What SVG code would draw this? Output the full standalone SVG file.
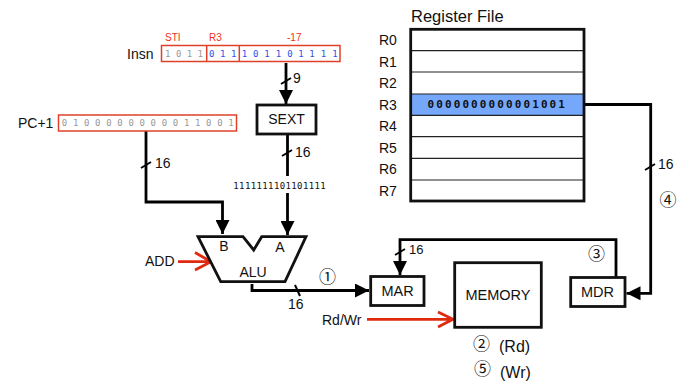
<svg xmlns="http://www.w3.org/2000/svg" width="677" height="381" viewBox="0 0 677 381">
<style>
text{font-family:"Liberation Sans",Arial,sans-serif;fill:#111}
.l{font-size:14px}.m{font-size:14.500px}.s{font-size:13px}.n{font-size:14px}.p{font-size:16px}
.r{font-size:10px;fill:#f0301a}
.b{font-family:"DejaVu Sans Mono",monospace;font-size:9px;text-anchor:middle}
.g{fill:#999}.u{fill:#3050e8}
.c{font-family:"Noto Sans CJK JP","DejaVu Sans",sans-serif;font-size:17px}
.box{fill:#fff;stroke:#111;stroke-width:2.800}
.w{fill:none;stroke:#000;stroke-width:2.800}
.t{fill:none;stroke:#000;stroke-width:2}
.red{fill:none;stroke:#e02a10;stroke-width:2.800}
.rb{fill:none;stroke:#e0402a;stroke-width:1.500}
.row{fill:none;stroke:#222;stroke-width:1.200}
</style>
<defs><marker id="a" markerUnits="userSpaceOnUse" markerWidth="14" markerHeight="14" refX="14" refY="7" orient="auto"><path d="M0 0L14 7L0 14Z" fill="#000"/></marker></defs>
<g id="connectors">
<path class="w" d="M286 63V104" marker-end="url(#a)"/>
<path class="t" d="M281 84L291 78"/>
<path class="w" d="M146 131V202H222.500V234" marker-end="url(#a)"/>
<path class="t" d="M141 168L151 162"/>
<path class="w" d="M287.500 134V176"/>
<path class="t" d="M282 156L292 150"/>
<path class="w" d="M287.500 193V235" marker-end="url(#a)"/>
<path class="w" d="M252 284V290.500H369" marker-end="url(#a)"/>
<path class="t" d="M295 285L300 296"/>
<path class="w" d="M616 277V239.700H400V275" marker-end="url(#a)"/>
<path class="t" d="M395 255L405 249"/>
<path class="w" d="M576 104.500H650.700V293.300H626.500" marker-end="url(#a)"/>
<path class="t" d="M645 170L655 164"/>
<path class="red" d="M178 261.700H210M195 252.500L211 261.700L195 270"/>
<path class="red" d="M367 319.300H453M438 312L453 319.300L438 327"/>
</g>
<g id="insn">
<text class="l" x="127" y="59">Insn</text>
<text class="r" x="165" y="41">STI</text><text class="r" x="209" y="41">R3</text><text class="r" x="287" y="41">-17</text>
<rect class="rb" x="161.500" y="45.500" width="178.500" height="16"/><path class="rb" d="M206.700 45.500V61.500M239.300 45.500V61.500"/>
<text class="b g" x="167.700 178.700 189.500 200.300" y="56.500">1011</text>
<text class="b u" x="211.700 222.700 233.700" y="56.500">011</text>
<text class="b u" x="244.500 255.700 267 278.500 290 301 312 323.500 335" y="56.500">101101111</text>
</g>
<g id="pc">
<text class="l" x="18" y="128">PC+1</text>
<rect class="rb" x="58.500" y="115" width="178" height="16"/>
<text class="b g" x="64.500 75.600 86.700 97.800 108.900 120 131.100 142.200 153.300 164.400 175.500 186.600 197.700 208.800 219.900 231" y="126">0100000000011001</text>
</g>
<g id="sext"><rect class="box" x="257" y="105" width="59" height="29"/><text class="l" x="286.500" y="124" text-anchor="middle">SEXT</text></g>
<text class="n" x="293" y="83">9</text>
<text class="n" x="295" y="157">16</text>
<text class="n" x="155" y="168">16</text>
<text class="b" x="236 241.800 247.600 253.400 259.200 265 270.800 276.600 282.400 288.200 294 299.800 305.600 311.400 317.200 323" y="189">1111111101101111</text>
<g id="alu">
<path class="box" d="M198 236.700H243L253.700 250L261.700 236.700H306L285 281.700H220.700Z"/>
<text class="l" x="224" y="251" text-anchor="middle">B</text><text class="l" x="280" y="252" text-anchor="middle">A</text><text class="l" x="253" y="277" text-anchor="middle">ALU</text>
</g>
<text class="l" x="145" y="266">ADD</text>
<text class="c" x="319" y="283">①</text>
<text class="n" x="288" y="309">16</text>
<g id="mar"><rect class="box" x="370.700" y="276.500" width="53.300" height="29"/><text class="m" x="397.500" y="296" text-anchor="middle">MAR</text></g>
<text class="s" x="409" y="254">16</text>
<g id="memory"><rect class="box" x="454.700" y="262.700" width="86.600" height="64.600"/><text class="m" x="498" y="300" text-anchor="middle">MEMORY</text></g>
<g id="mdr"><rect class="box" x="570.700" y="277.500" width="54.300" height="29"/><text class="m" x="597.500" y="297" text-anchor="middle">MDR</text></g>
<text class="n" x="322" y="325">Rd/Wr</text>
<text class="c" x="588" y="260">③</text>
<text class="c" x="473" y="350">②</text><text class="p" x="499" y="352">(Rd)</text>
<text class="c" x="474" y="375">⑤</text><text class="p" x="500" y="378">(Wr)</text>
<g id="regfile">
<text x="411" y="22" style="font-size:16.500px">Register File</text>
<rect x="411" y="94" width="173" height="21.300" fill="#75a8fb"/>
<path class="row" d="M411 50.700H584M411 72H584M411 94H584M411 115.300H584M411 136.700H584M411 158.300H584M411 180H584"/>
<rect x="410.700" y="29.300" width="173.300" height="171.700" fill="none" stroke="#111" stroke-width="2.800"/>
<g class="n"><text x="379" y="45">R0</text><text x="379" y="67">R1</text><text x="379" y="88">R2</text><text x="379" y="110">R3</text><text x="379" y="131">R4</text><text x="379" y="153">R5</text><text x="379" y="174">R6</text><text x="379" y="196">R7</text></g>
<text x="427.500" y="108" style="font-family:'DejaVu Sans Mono',monospace;font-size:11px;font-weight:bold;letter-spacing:2.100px">0000000000001001</text>
</g>
<text class="n" x="658" y="169">16</text>
<text class="c" x="659.500" y="206">④</text>
</svg>
